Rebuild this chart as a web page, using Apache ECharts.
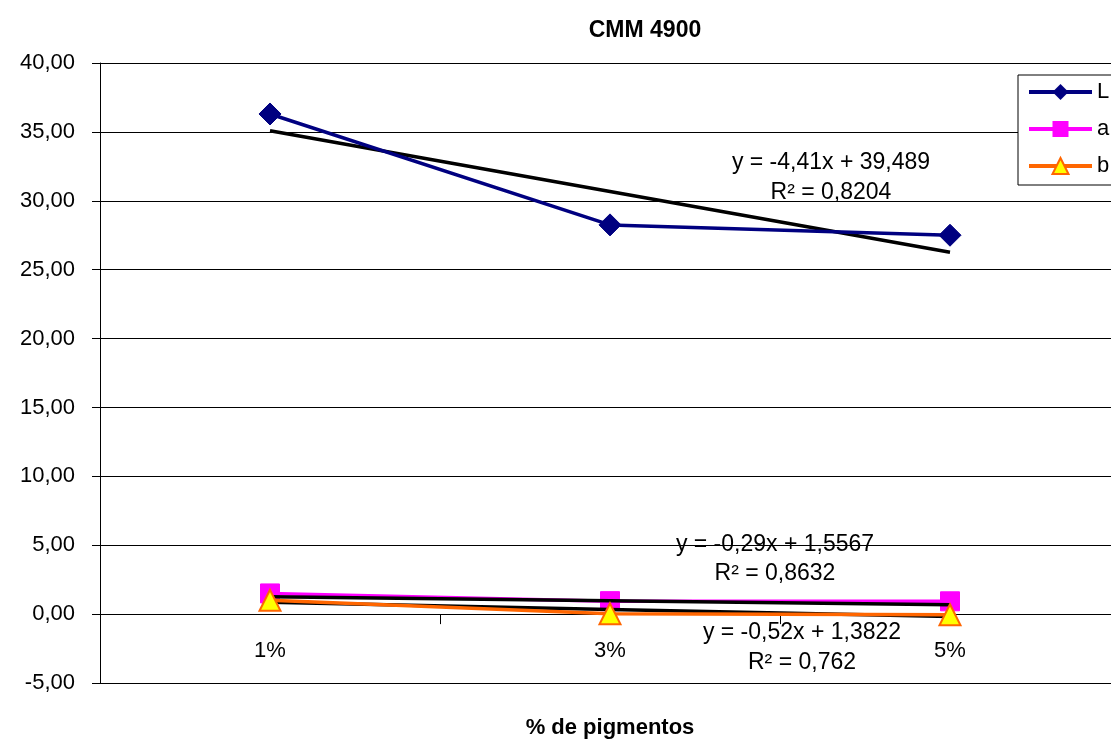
<!DOCTYPE html>
<html>
<head>
<meta charset="utf-8">
<script src="https://cdn.jsdelivr.net/npm/echarts@6/dist/echarts.min.js"></script>
<style>
html,body{margin:0;padding:0;background:#fff;}
#chart{width:1111px;height:742px;}
</style>
</head>
<body>
<div id="chart"></div>
<script>
// ---- data ----
const categories = ['1%', '3%', '5%'];
const seriesL = [36.3, 28.25, 27.5];
const seriesA = [1.5, 0.94, 0.93];
const seriesB = [1.0, 0.02, -0.05];
const yTicks = { min: -5, max: 40, interval: 5 };
// trendline coefficients (y = slope * x + intercept, x = 1..3)
const trendSlope = [-4.41, -0.29, -0.52];
const trendIntercept = [39.489, 1.5567, 1.3822];
const trendLabels = [
  ['y = -4,41x + 39,489', 'R² = 0,8204'],
  ['y = -0,29x + 1,5567', 'R² = 0,8632'],
  ['y = -0,52x + 1,3822', 'R² = 0,762']
];

function trend(i) {
  return categories.map((c, k) => +(trendSlope[i] * (k + 1) + trendIntercept[i]).toFixed(4));
}

const FONT = 'Liberation Sans, Arial, sans-serif';
const chart = echarts.init(document.getElementById('chart'));

const trendSeries = [0, 1, 2].map(i => ({
  name: 'trend' + i,
  type: 'line',
  data: trend(i),
  symbol: 'none',
  silent: true,
  z: 3,
  lineStyle: { color: '#000', width: 3.5 },
  animation: false
}));

const labelPos = [
  [831, 163, 193],
  [775, 545, 574],
  [802, 633, 663]
];
const graphics = [];
labelPos.forEach((p, i) => {
  graphics.push({ type: 'text', x: p[0], y: p[1], style: { text: trendLabels[i][0], font: '23px ' + FONT, fill: '#000', textAlign: 'center', textVerticalAlign: 'middle' }, z: 20 });
  graphics.push({ type: 'text', x: p[0], y: p[2], style: { text: trendLabels[i][1], font: '23px ' + FONT, fill: '#000', textAlign: 'center', textVerticalAlign: 'middle' }, z: 20 });
});

chart.setOption({
  animation: false,
  backgroundColor: '#fff',
  title: {
    text: 'CMM 4900',
    left: 640,
    top: 14,
    textAlign: 'center',
    textStyle: { fontFamily: FONT, fontWeight: 'bold', fontSize: 23, color: '#000' }
  },
  grid: { left: 100, top: 63, width: 1020, height: 620, containLabel: false, outerBoundsMode: 'none' },
  legend: {
    data: ['L', 'a', 'b'],
    orient: 'vertical',
    left: 1018,
    top: 75,
    padding: [6, 8, 8, 9],
    itemWidth: 63,
    itemHeight: 20,
    itemGap: 15,
    backgroundColor: '#fff',
    borderColor: '#000',
    borderWidth: 1,
    borderRadius: 0,
    lineStyle: { width: 4 },
    textStyle: { fontFamily: FONT, fontSize: 22, color: '#000' }
  },
  xAxis: {
    type: 'category',
    data: categories,
    boundaryGap: true,
    name: '% de pigmentos',
    nameLocation: 'middle',
    nameGap: 34,
    nameTextStyle: { fontFamily: FONT, fontWeight: 'bold', fontSize: 22, color: '#000' },
    axisLine: { onZero: true, lineStyle: { color: '#000', width: 1 } },
    axisTick: { show: true, alignWithLabel: false, length: 10, lineStyle: { color: '#000' } },
    axisLabel: { margin: -43, fontFamily: FONT, fontSize: 22, color: '#000' },
    splitLine: { show: false }
  },
  yAxis: {
    type: 'value',
    min: yTicks.min,
    max: yTicks.max,
    interval: yTicks.interval,
    axisLine: { show: true, lineStyle: { color: '#000', width: 1 } },
    axisTick: { show: true, length: 8, lineStyle: { color: '#000' } },
    axisLabel: {
      margin: 25,
      fontFamily: FONT, fontSize: 22, color: '#000',
      formatter: v => v.toFixed(2).replace('.', ',')
    },
    splitLine: { show: true, lineStyle: { color: '#000', width: 1 } }
  },
  series: [
    {
      name: 'L', type: 'line', data: seriesL,
      symbol: 'diamond', symbolSize: 22, z: 4,
      lineStyle: { color: '#000080', width: 3.5 },
      itemStyle: { color: '#000080', borderColor: '#000080' }
    },
    {
      name: 'a', type: 'line', data: seriesA,
      symbol: 'rect', symbolSize: 19, z: 2,
      lineStyle: { color: '#FF00FF', width: 3.5 },
      itemStyle: { color: '#FF00FF', borderColor: '#FF00FF' }
    },
    {
      name: 'b', type: 'line', data: seriesB,
      symbol: 'triangle', symbolSize: 21, z: 5,
      lineStyle: { color: '#FF6600', width: 3.5 },
      itemStyle: { color: '#FFFF00', borderColor: '#FF6600', borderWidth: 2 }
    }
  ].concat(trendSeries),
  graphic: graphics
});
</script>
</body>
</html>
